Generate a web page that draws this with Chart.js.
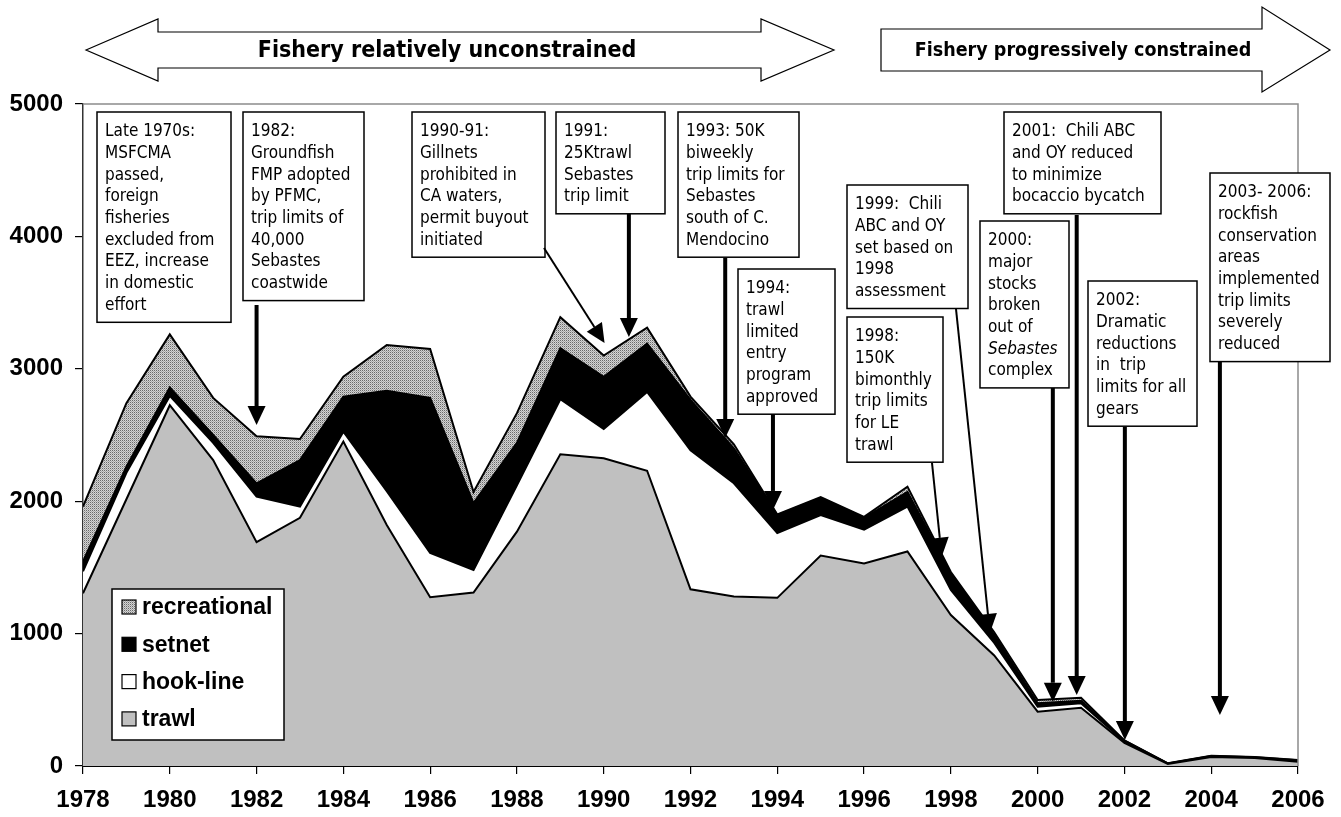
<!DOCTYPE html>
<html>
<head>
<meta charset="utf-8">
<script src="https://cdn.jsdelivr.net/npm/chart.js@4/dist/chart.umd.min.js"></script>
<style>
  html, body { margin: 0; padding: 0; background: #fff; }
  canvas { display: block; }
</style>
</head>
<body>
<canvas id="chart" width="1341" height="817"></canvas>
<script>
// landings by gear, 1978-2006
const years = [1978, 1979, 1980, 1981, 1982, 1983, 1984, 1985, 1986, 1987, 1988, 1989, 1990, 1991, 1992,
  1993, 1994, 1995, 1996, 1997, 1998, 1999, 2000, 2001, 2002, 2003, 2004, 2005, 2006];
const trawl = [1305, 2015, 2725, 2310, 1690, 1875, 2450, 1820, 1275, 1310, 1770, 2355, 2325, 2230, 1335,
  1280, 1270, 1590, 1530, 1620, 1140, 835, 410, 440, 175, 15, 68, 60, 33];
const hookLine = [165, 200, 70, 130, 345, 85, 75, 255, 335, 170, 350, 415, 220, 595, 1050,
  855, 490, 305, 255, 340, 190, 95, 38, 34, 8, 2, 4, 3, 5];
const setnet = [75, 45, 65, 60, 100, 350, 265, 760, 1170, 505, 320, 385, 395, 365, 380,
  265, 135, 130, 90, 110, 125, 60, 26, 19, 8, 2, 3, 3, 6];
const recreational = [415, 480, 400, 280, 355, 160, 150, 345, 370, 85, 225, 235, 160, 120, 25,
  30, 5, 6, 7, 40, 10, 20, 24, 23, 2, 1, 2, 2, 2];

const xTicks = [1978, 1980, 1982, 1984, 1986, 1988, 1990, 1992, 1994, 1996, 1998, 2000, 2002, 2004, 2006];
const yTicks = [0, 1000, 2000, 3000, 4000, 5000];

// text boxes: left/top/right in px, arrow tip as [year, value]
const notes = [
  { box: [97, 112, 231], lines: ['Late 1970s:', 'MSFCMA', 'passed,', 'foreign', 'fisheries', 'excluded from', 'EEZ, increase', 'in domestic', 'effort'] },
  { box: [243, 112, 364], lines: ['1982:', 'Groundfish', 'FMP adopted', 'by PFMC,', 'trip limits of', '40,000', 'Sebastes', 'coastwide'],
    arrow: { from: [null, 305], to: [1982, 2575], w: 4 } },
  { box: [412, 112, 545], lines: ['1990-91:', 'Gillnets', 'prohibited in', 'CA waters,', 'permit buyout', 'initiated'],
    arrow: { from: [544, 248], to: [1990.02, 3195], w: 2 } },
  { box: [556, 112, 665], lines: ['1991:', '25Ktrawl', 'Sebastes', 'trip limit'],
    arrow: { from: [null, 214], to: [1990.58, 3240], w: 4 } },
  { box: [678, 112, 799], lines: ['1993: 50K', 'biweekly', 'trip limits for', 'Sebastes', 'south of C.', 'Mendocino'],
    arrow: { from: [null, 258], to: [1992.8, 2477], w: 4 } },
  { box: [738, 269, 835], lines: ['1994:', 'trawl', 'limited', 'entry', 'program', 'approved'],
    arrow: { from: [null, 414], to: [1993.9, 1934], w: 4 } },
  { box: [847, 185, 968], lines: ['1999:  Chili', 'ABC and OY', 'set based on', '1998', 'assessment'],
    arrow: { from: [956, 309], to: [1998.9, 1005], w: 2 } },
  { box: [847, 317, 943], lines: ['1998:', '150K', 'bimonthly', 'trip limits', 'for LE', 'trawl'],
    arrow: { from: [932, 463], to: [1997.79, 1581], w: 2 } },
  { box: [980, 221, 1069], lines: ['2000:', 'major', 'stocks', 'broken', 'out of', '*Sebastes', 'complex'],
    arrow: { from: [null, 388], to: [2000.35, 486], w: 4 } },
  { box: [1004, 112, 1161], lines: ['2001:  Chili ABC', 'and OY reduced', 'to minimize', 'bocaccio bycatch'],
    arrow: { from: [null, 215], to: [2000.9, 536], w: 4 } },
  { box: [1088, 281, 1197], lines: ['2002:', 'Dramatic', 'reductions', 'in  trip', 'limits for all', 'gears'],
    arrow: { from: [null, 427], to: [2002.01, 196], w: 4 } },
  { box: [1210, 173, 1330], lines: ['2003- 2006:', 'rockfish', 'conservation', 'areas', 'implemented', 'trip limits', 'severely', 'reduced'],
    arrow: { from: [null, 362], to: [2004.2, 385], w: 4 } }
];

// dotted fill for recreational
const tile = document.createElement('canvas');
tile.width = 2; tile.height = 2;
const tctx = tile.getContext('2d');
tctx.fillStyle = '#d4d4d4'; tctx.fillRect(0, 0, 2, 2);
tctx.fillStyle = '#6a6a6a'; tctx.fillRect(0, 0, 1, 1);
tctx.fillStyle = '#a8a8a8'; tctx.fillRect(1, 1, 1, 1);
const dotted = tctx.createPattern(tile, 'repeat');

const toPts = arr => arr.map((v, i) => ({ x: years[i], y: v }));
const NOTE_FONT = '17px "DejaVu Sans Condensed", "DejaVu Sans", sans-serif';

function drawArrow(ctx, x0, y0, x1, y1, w) {
  const a = Math.atan2(y1 - y0, x1 - x0);
  const hl = 19, hw = 9;
  const bx = x1 - hl * Math.cos(a), by = y1 - hl * Math.sin(a);
  ctx.strokeStyle = '#000';
  ctx.lineWidth = w;
  ctx.beginPath(); ctx.moveTo(x0, y0); ctx.lineTo(bx, by); ctx.stroke();
  ctx.fillStyle = '#000';
  ctx.beginPath();
  ctx.moveTo(x1, y1);
  ctx.lineTo(bx + hw * Math.sin(a), by - hw * Math.cos(a));
  ctx.lineTo(bx - hw * Math.sin(a), by + hw * Math.cos(a));
  ctx.closePath(); ctx.fill();
}

function bigArrow(ctx, pts, text, font, cx) {
  ctx.beginPath();
  pts.forEach((p, i) => i ? ctx.lineTo(p[0], p[1]) : ctx.moveTo(p[0], p[1]));
  ctx.closePath();
  ctx.fillStyle = '#fff'; ctx.fill();
  ctx.strokeStyle = '#000'; ctx.lineWidth = 1.2; ctx.stroke();
  ctx.fillStyle = '#000';
  ctx.font = font;
  ctx.textAlign = 'center'; ctx.textBaseline = 'middle';
  ctx.fillText(text, cx, 51);
}

const decor = {
  id: 'decor',
  afterDraw(chart) {
    const { ctx, chartArea: a, scales: { x, y } } = chart;
    ctx.save();

    // gray frame top and right
    ctx.strokeStyle = '#8c8c8c'; ctx.lineWidth = 1.5;
    ctx.beginPath(); ctx.moveTo(a.left, a.top); ctx.lineTo(a.right, a.top); ctx.lineTo(a.right, a.bottom); ctx.stroke();

    // period arrows above the plot
    bigArrow(ctx, [[86, 50], [158, 19], [158, 32], [761, 32], [761, 19], [834, 50], [761, 81], [761, 68], [158, 68], [158, 81]],
      'Fishery relatively unconstrained', 'bold 23px "DejaVu Sans Condensed", "DejaVu Sans", sans-serif', 447);
    bigArrow(ctx, [[881, 29], [1262, 29], [1262, 7], [1330, 50], [1262, 92], [1262, 71], [881, 71]],
      'Fishery progressively constrained', 'bold 19.5px "DejaVu Sans Condensed", "DejaVu Sans", sans-serif', 1083);

    // notes
    notes.forEach(n => {
      const [l, t, r] = n.box;
      const h = 21.7 * n.lines.length + 15;
      ctx.fillStyle = '#fff'; ctx.fillRect(l, t, r - l, h);
      ctx.strokeStyle = '#000'; ctx.lineWidth = 1.5; ctx.strokeRect(l, t, r - l, h);
      ctx.fillStyle = '#000'; ctx.textAlign = 'left'; ctx.textBaseline = 'middle';
      n.lines.forEach((s, i) => {
        const it = s.startsWith('*');
        ctx.font = (it ? 'italic ' : '') + NOTE_FONT;
        ctx.fillText(it ? s.slice(1) : s, l + 8, t + 19.7 + i * 21.7);
      });
      if (n.arrow) {
        const tx = x.getPixelForValue(n.arrow.to[0]);
        const ty = y.getPixelForValue(n.arrow.to[1]);
        const fx = n.arrow.from[0] == null ? tx : n.arrow.from[0];
        drawArrow(ctx, fx, n.arrow.from[1], tx, ty, n.arrow.w);
      }
    });

    // legend box
    const lx = 112, ly = 589, lw = 172, lh = 151;
    ctx.fillStyle = '#fff'; ctx.fillRect(lx, ly, lw, lh);
    ctx.strokeStyle = '#000'; ctx.lineWidth = 1.5; ctx.strokeRect(lx, ly, lw, lh);
    const items = chart.data.datasets.slice().reverse();
    ctx.font = 'bold 23px "Liberation Sans", Arial, sans-serif';
    ctx.textAlign = 'left'; ctx.textBaseline = 'middle';
    items.forEach((ds, i) => {
      const cy = 607 + i * 37.3;
      ctx.fillStyle = ds.backgroundColor;
      ctx.fillRect(122, cy - 7, 14, 14);
      ctx.strokeStyle = '#000'; ctx.lineWidth = 1.2;
      ctx.strokeRect(122, cy - 7, 14, 14);
      ctx.fillStyle = '#000';
      ctx.fillText(ds.label, 142, cy + 1);
    });

    ctx.restore();
  }
};

const area = (label, data, bg, fill) => ({
  label, data: toPts(data), backgroundColor: bg, fill,
  borderColor: '#000', borderWidth: 2, pointRadius: 0, tension: 0
});

new Chart(document.getElementById('chart'), {
  type: 'line',
  data: {
    datasets: [
      area('trawl', trawl, '#c0c0c0', 'origin'),
      area('hook-line', hookLine, '#ffffff', '-1'),
      area('setnet', setnet, '#000000', '-1'),
      area('recreational', recreational, dotted, '-1')
    ]
  },
  options: {
    responsive: false,
    animation: false,
    devicePixelRatio: 1,
    layout: { padding: { left: 0, right: 43, top: 104, bottom: 0 } },
    plugins: { legend: { display: false }, tooltip: { enabled: false } },
    scales: {
      x: {
        type: 'linear', min: 1978, max: 2006,
        afterFit: s => { s.height = 51; },
        afterBuildTicks: s => { s.ticks = xTicks.map(v => ({ value: v })); },
        grid: { drawOnChartArea: false, tickLength: 8, color: '#000', lineWidth: 1.2 },
        border: { color: '#000', width: 2 },
        ticks: { color: '#000', font: { family: '"Liberation Sans", Arial, sans-serif', size: 24, weight: 'bold' },
          padding: 12, maxRotation: 0, callback: v => String(v) }
      },
      y: {
        stacked: true, min: 0, max: 5000,
        afterFit: s => { s.width = 83; },
        afterBuildTicks: s => { s.ticks = yTicks.map(v => ({ value: v })); },
        grid: { drawOnChartArea: false, tickLength: 8, color: '#000', lineWidth: 1.2 },
        border: { color: '#333', width: 1.5 },
        ticks: { color: '#000', font: { family: '"Liberation Sans", Arial, sans-serif', size: 24, weight: 'bold' },
          padding: 12, callback: v => String(v) }
      }
    }
  },
  plugins: [decor]
});
</script>
</body>
</html>
